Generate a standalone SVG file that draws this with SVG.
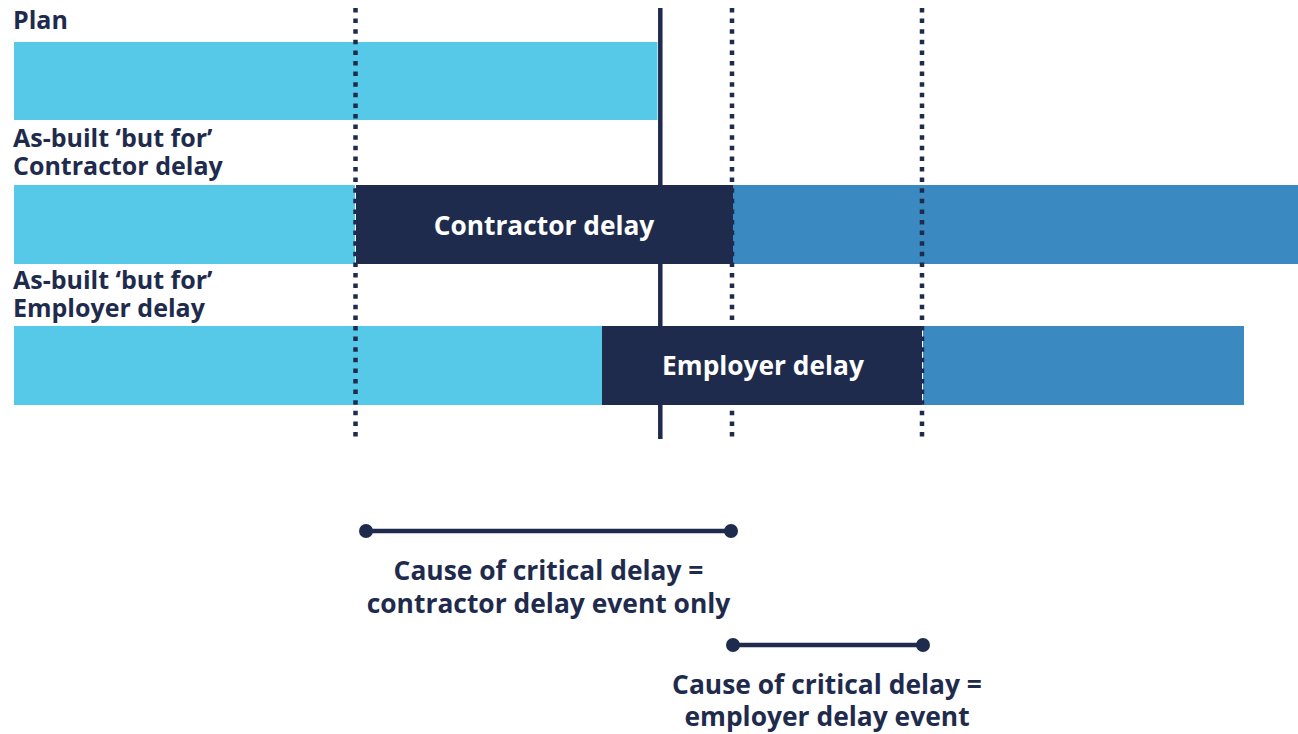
<svg xmlns="http://www.w3.org/2000/svg" width="1298" height="734" viewBox="0 0 1298 734">
<style>
.lbl{font-family:"Open Sans","Noto Sans",sans-serif;font-weight:700;font-size:25px;fill:#1f2b4d}
.in{font-family:"Open Sans","Noto Sans",sans-serif;font-weight:700;font-size:26.3px;fill:#ffffff;text-anchor:middle}
.cap{font-family:"Open Sans","Noto Sans",sans-serif;font-weight:700;font-size:26.4px;fill:#1f2b4d;text-anchor:middle}
.lb{fill:#56c8e8}.mb{fill:#3a89c0}.nv{fill:#1f2b4d}
.dot{stroke:#1f2b4d;stroke-width:4.5;stroke-dasharray:4.5 6.1;fill:none}
.sol{stroke:#1f2b4d;stroke-width:4.5;fill:none}
</style>
<rect width="1298" height="734" fill="#ffffff"/>
<g id="plan">
<text class="lbl" x="13" y="29">Plan</text>
<rect class="lb" x="14" y="42" width="643.5" height="78"/>
</g>
<g id="contractor-row">
<text class="lbl" x="13" y="147">As-built ‘but for’</text>
<text class="lbl" x="13" y="175">Contractor delay</text>
<rect class="lb" x="14" y="185" width="341" height="79"/>
<rect class="mb" x="733" y="185" width="565" height="79"/>
</g>
<g id="employer-row">
<text class="lbl" x="13" y="289">As-built ‘but for’</text>
<text class="lbl" x="13" y="317">Employer delay</text>
<rect class="lb" x="14" y="326" width="588" height="79"/>
<rect class="mb" x="923" y="326" width="321" height="79"/>
</g>
<g id="connectors">
<line class="dot" x1="355.5" y1="8" x2="355.5" y2="440"/>
<line class="dot" x1="732" y1="8" x2="732" y2="440"/>
<line class="dot" x1="922" y1="8" x2="922" y2="440"/>
<line class="sol" x1="660.3" y1="8" x2="660.3" y2="439"/>
</g>
<g id="contractor-delay">
<rect class="nv" x="356" y="185" width="377" height="79"/>
<text class="in" x="544" y="235">Contractor delay</text>
</g>
<g id="employer-delay">
<rect class="nv" x="602" y="326" width="320" height="79"/>
<text class="in" x="763" y="375">Employer delay</text>
</g>
<g id="contractor-cause">
<line class="sol" x1="366" y1="531" x2="731" y2="531"/>
<circle class="nv" cx="366" cy="531" r="7"/>
<circle class="nv" cx="731" cy="531" r="7"/>
<text class="cap" x="548.5" y="580">Cause of critical delay =</text>
<text class="cap" x="548.5" y="613">contractor delay event only</text>
</g>
<g id="employer-cause">
<line class="sol" x1="733" y1="645" x2="923" y2="645"/>
<circle class="nv" cx="733" cy="645" r="7"/>
<circle class="nv" cx="923" cy="645" r="7"/>
<text class="cap" x="827" y="694">Cause of critical delay =</text>
<text class="cap" x="827" y="726">employer delay event</text>
</g>
</svg>
